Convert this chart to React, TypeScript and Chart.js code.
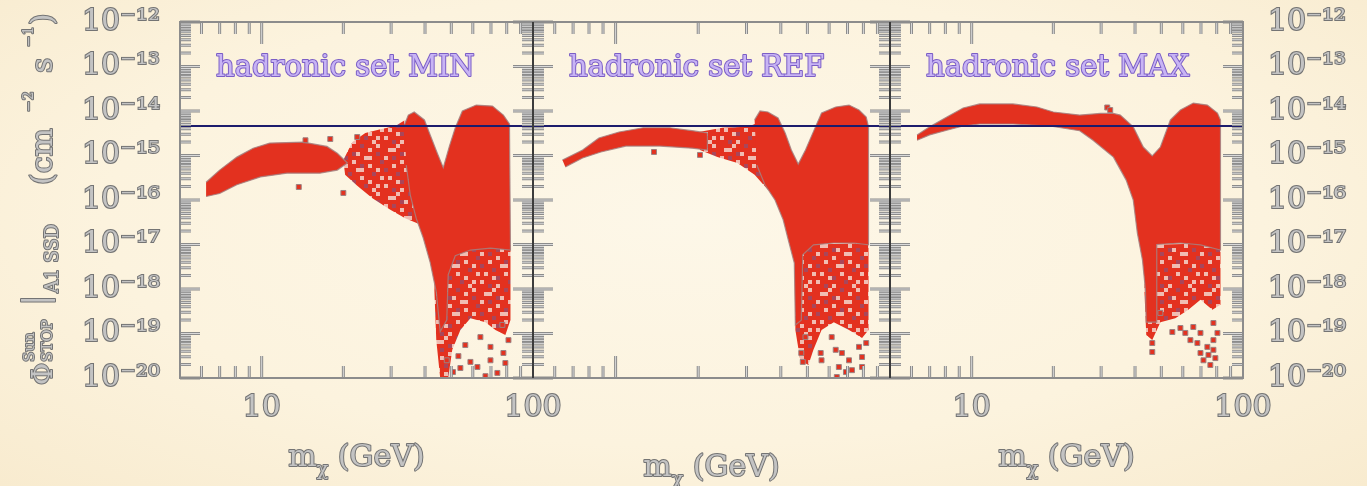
import { useEffect, useRef } from 'react';
import { Chart, registerables } from 'chart.js';

Chart.register(...registerables);

const WIDTH = 1367;
const HEIGHT = 486;
const FRAME_TOP = 22;
const FRAME_BOTTOM = 378;
const PANEL_EDGES = [180, 533, 890, 1243];

const X_MIN = 5;
const X_MAX = 100;
const Y_MIN = 1e-20;
const Y_MAX = 1e-12;

const X_LABEL_TICKS = [10, 100];
const X_MINOR_TICKS = [6, 7, 8, 9, 10, 20, 30, 40, 50, 60, 70, 80, 90];
const X_MAJOR_TICKS = [10];
const Y_DECADES = [-20, -19, -18, -17, -16, -15, -14, -13, -12];

// experimental upper limit on the flux
const LIMIT_FLUX = 4.6e-15;

// ---- hadronic set MIN ----
const MIN_LOBE_X = [6.24, 7.0, 8.1, 9.3, 10.7, 14.2, 17.4, 19.0, 20.7, 19.0, 16.4, 12.4, 9.9, 8.1, 7.0, 6.24];
const MIN_LOBE_Y = [2.5e-16, 4.7e-16, 9.2e-16, 1.46e-15, 1.9e-15, 2.0e-15, 1.6e-15, 1.12e-15, 6.8e-16, 4.7e-16, 4.0e-16, 4.0e-16, 3.3e-16, 2.2e-16, 1.4e-16, 1.2e-16];
const MIN_MID_X = [20.0, 21.6, 24.1, 27.4, 31.1, 33.8, 36.8, 38.4, 33.8, 29.8, 25.6, 22.5, 20.3];
const MIN_MID_Y = [7.9e-16, 2.0e-15, 3.2e-15, 3.9e-15, 4.6e-15, 6.3e-15, 1.33e-15, 2.8e-17, 3.9e-17, 6.0e-17, 1.1e-16, 2.1e-16, 3.7e-16];
const MIN_CORE_X = [33.6, 34.7, 36.5, 39.8, 41.8, 44.4, 46.7, 49.2, 51.7, 54.9, 61.8, 70.9, 77.8, 81.9, 82.6, 69.7, 58.8, 51.7, 48.7, 48.1, 45.5, 44.0, 41.8, 39.4, 37.1, 35.3, 34.1];
const MIN_CORE_Y = [4.9e-15, 8.1e-15, 9.5e-15, 6.3e-15, 2.9e-15, 1.12e-15, 5.3e-16, 1.63e-15, 4.2e-15, 1.0e-14, 1.36e-14, 1.29e-14, 8.1e-15, 5.1e-15, 7.5e-18, 8.3e-18, 7.5e-18, 5.6e-18, 2.1e-18, 2.0e-19, 1.1e-19, 8.6e-19, 3.9e-18, 1.4e-17, 3.9e-17, 1.28e-16, 6.1e-16];
const MIN_TAIL_X = [44.0, 82.6, 82.6, 79.1, 72.7, 66.8, 58.8, 54.0, 50.4, 48.7, 45.5, 44.0, 43.3];
const MIN_TAIL_Y = [7.5e-18, 9.8e-18, 2.0e-19, 9.3e-20, 1.2e-19, 1.8e-19, 2.2e-19, 1.2e-19, 4.3e-20, 1.0e-20, 1.0e-20, 7.1e-20, 9.5e-19];
const MIN_DOTS_X = [13.7, 20.0, 14.5, 17.9, 22.5, 48.1, 50.7, 54.0, 58.8, 62.4, 69.7, 73.9, 77.8, 79.1, 69.7, 64.0, 56.3, 53.1, 66.8, 81.2, 77.1];
const MIN_DOTS_Y = [1.96e-16, 1.44e-16, 2.2e-15, 2.35e-15, 2.6e-15, 2.5e-20, 1.36e-20, 1.68e-20, 2.3e-20, 1.77e-20, 2.5e-20, 1.3e-20, 3.65e-20, 2.17e-20, 5.0e-20, 8.3e-20, 5.5e-20, 3.1e-20, 1.1e-20, 7.1e-20, 1.56e-19];

// ---- hadronic set REF ----
const REF_BAND_X = [6.4, 7.58, 8.69, 10.3, 12.6, 15.75, 19.3, 21.6, 21.6, 19.0, 14.5, 10.9, 8.84, 7.58, 6.56];
const REF_BAND_Y = [7.9e-16, 1.33e-15, 2.47e-15, 3.37e-15, 4.2e-15, 4.2e-15, 3.56e-15, 3.2e-15, 1.33e-15, 1.46e-15, 1.63e-15, 1.63e-15, 1.2e-15, 8.8e-16, 5.5e-16];
const REF_MID_X = [20.3, 24.5, 30.3, 33.8, 36.8, 35.9, 32.1, 27.8, 23.5, 20.3];
const REF_MID_Y = [3.4e-15, 4.2e-15, 4.4e-15, 5.7e-15, 1.33e-15, 1.7e-16, 3.7e-16, 6.8e-16, 9.2e-16, 1.33e-15];
const REF_CORE_X = [32.1, 33.6, 35.9, 39.1, 41.5, 43.7, 46.3, 49.2, 53.5, 56.3, 63.4, 70.9, 77.1, 81.9, 83.5, 83.5, 73.9, 62.4, 52.6, 48.1, 47.5, 45.2, 44.8, 42.6, 40.8, 38.1, 35.0, 32.7];
const REF_CORE_Y = [6.3e-15, 1.0e-14, 9.5e-15, 7.0e-15, 3.2e-15, 1.33e-15, 6.4e-16, 1.33e-15, 4.4e-15, 9.0e-15, 1.23e-14, 1.36e-14, 1.05e-14, 7.3e-15, 4.4e-15, 9.8e-18, 1.08e-17, 1.08e-17, 9.8e-18, 5.9e-18, 2.0e-19, 1.56e-19, 3.84e-18, 1.26e-17, 3.6e-17, 1.0e-16, 2.2e-16, 6.1e-16];
const REF_TAIL_X = [45.2, 83.5, 83.5, 79.1, 70.9, 62.4, 56.3, 52.6, 50.4, 47.1, 45.2];
const REF_TAIL_Y = [9.8e-18, 1.08e-17, 1.2e-19, 7.9e-20, 1.2e-19, 1.8e-19, 1.2e-19, 4.3e-20, 1.96e-20, 2.5e-20, 1.2e-19];
const REF_DOTS_X = [13.8, 20.3, 55.9, 56.3, 61.3, 63.4, 66.8, 70.9, 77.1, 81.9, 79.1, 65.1, 69.1, 72.7, 79.1, 64.0, 49.2, 47.5, 48.1];
const REF_DOTS_Y = [1.2e-15, 1.03e-15, 3.65e-20, 2.5e-20, 8.3e-20, 4.3e-20, 3.65e-20, 2.5e-20, 5.0e-20, 6.1e-20, 2.96e-20, 1.77e-20, 1.36e-20, 1.5e-20, 1.77e-20, 1.05e-20, 8.3e-20, 3.65e-20, 2.3e-20];

// ---- hadronic set MAX ----
const MAX_CORE_X = [6.29, 7.0, 8.1, 9.3, 10.7, 14.2, 17.4, 20.0, 25.0, 29.8, 33.3, 35.3, 39.4, 42.9, 46.3, 49.6, 54.0, 58.8, 65.6, 73.9, 80.5, 82.6, 82.6, 69.7, 58.8, 48.1, 48.1, 44.0, 43.7, 42.6, 40.8, 39.4, 37.1, 33.3, 28.0, 25.0, 19.4, 14.2, 10.7, 9.3, 8.1, 7.0, 6.29];
const MAX_CORE_Y = [2.9e-15, 4.4e-15, 7.3e-15, 1.17e-14, 1.44e-14, 1.44e-14, 1.23e-14, 9.5e-15, 8.1e-15, 8.8e-15, 8.8e-15, 8.1e-15, 4.4e-15, 1.55e-15, 9.8e-16, 1.55e-15, 6.3e-15, 1.05e-14, 1.51e-14, 1.36e-14, 9.0e-15, 6.3e-15, 7.5e-18, 9.8e-18, 1.08e-17, 1.0e-17, 1.8e-19, 1.8e-19, 9.5e-19, 4.5e-18, 1.8e-17, 1.0e-16, 2.8e-16, 9.2e-16, 2.2e-15, 3.6e-15, 4.6e-15, 5.1e-15, 5.1e-15, 4.6e-15, 3.7e-15, 2.9e-15, 2.2e-15];
const MAX_TAIL_X = [44.0, 82.6, 82.6, 77.1, 69.7, 62.9, 56.3, 49.6, 46.3, 44.0, 43.3];
const MAX_TAIL_Y = [9.8e-18, 1.08e-17, 4.4e-19, 3.4e-19, 5.7e-19, 3.4e-19, 2.2e-19, 1.8e-19, 7.1e-20, 9.3e-20, 9.5e-19];
const MAX_DOTS_X = [31.6, 32.4, 46.3, 46.3, 54.9, 61.3, 65.6, 69.7, 77.8, 80.5, 67.9, 73.9, 77.8, 69.7, 74.6, 77.8, 71.5, 49.6, 75.8, 79.1, 64.0, 58.8];
const MAX_DOTS_Y = [1.2e-14, 1.05e-14, 6.1e-20, 3.84e-20, 1.08e-19, 1.03e-19, 1.4e-19, 1.03e-19, 1.72e-19, 1.03e-19, 6.1e-20, 5.0e-20, 7.1e-20, 3.65e-20, 3.3e-20, 4.3e-20, 2.5e-20, 2.9e-19, 1.96e-20, 2.8e-20, 7.1e-20, 1.33e-19];

// ---- styling ----
const SERIF = '"DejaVu Serif", "Liberation Serif", serif';
const RED = '#e3311f';
const REGION_EDGE = 'rgba(165, 128, 128, 0.85)';
const DOT_EDGE = '#9c8282';
const LIMIT_COLOR = '#1c1c6c';
const TEXT_FILL = '#c3c3c3';
const TEXT_EDGE = '#747474';
const LABEL_FILL = '#c8b4f4';
const LABEL_EDGE = '#7b5ec6';
const FRAME_COLOR = '#8c8c8c';
const FRAME_DARK = '#3c3c3c';
const BACKGROUND = 'radial-gradient(ellipse at 50% 45%, #fdf7e8 0%, #fcf3de 60%, #f8ebcf 100%)';

// speckle tile for the loosely populated parts of the scan
const SPECKLE_TILE = [
  'RRRPRRDRRRPR',
  'RPPRRRRRPRRR',
  'RRRRDPRRRRDR',
  'PRDRRRRPPRRR',
  'RRRRPRRRRRRD',
  'RRPRRRDRPRRR',
  'DRRRRPPRRRPR',
  'RRRDRRRRRDRR',
  'RPRRRRPRRRRP',
  'RRRPDRRRPRRR',
  'PRRRRRRDRRPR',
  'RRDRPRRRRPRR',
];
const TILE_COLORS: Record<string, string> = { R: RED, P: '#f1bdb2', D: '#a9465a' };
const TILE_CELL = 4;

const SUP: Record<string, string> = {
  '-': '⁻', '0': '⁰', '1': '¹', '2': '²', '3': '³', '4': '⁴', '5': '⁵', '6': '⁶', '7': '⁷', '8': '⁸', '9': '⁹',
};
const powerLabel = (v: number) =>
  '10' + String(Math.round(Math.log10(v))).split('').map((c) => SUP[c]).join('');

type Region = { x: number[]; y: number[] };
type PanelSpec = {
  label: string;
  left: number;
  right: number;
  solids: Region[];
  speckles: Region[];
  dots: Region;
  yTicks: 'left' | 'right' | 'none';
  xTicks: boolean;
  titleDrop: number;
  yTitle: boolean;
  darkLeft: boolean;
  darkRight: boolean;
};

const PANELS: PanelSpec[] = [
  {
    label: 'hadronic set MIN',
    left: PANEL_EDGES[0], right: PANEL_EDGES[1],
    solids: [{ x: MIN_LOBE_X, y: MIN_LOBE_Y }, { x: MIN_CORE_X, y: MIN_CORE_Y }],
    speckles: [{ x: MIN_MID_X, y: MIN_MID_Y }, { x: MIN_TAIL_X, y: MIN_TAIL_Y }],
    dots: { x: MIN_DOTS_X, y: MIN_DOTS_Y },
    yTicks: 'left', xTicks: true, titleDrop: 0, yTitle: true, darkLeft: false, darkRight: true,
  },
  {
    label: 'hadronic set REF',
    left: PANEL_EDGES[1], right: PANEL_EDGES[2],
    solids: [{ x: REF_BAND_X, y: REF_BAND_Y }, { x: REF_CORE_X, y: REF_CORE_Y }],
    speckles: [{ x: REF_MID_X, y: REF_MID_Y }, { x: REF_TAIL_X, y: REF_TAIL_Y }],
    dots: { x: REF_DOTS_X, y: REF_DOTS_Y },
    yTicks: 'none', xTicks: false, titleDrop: 10, yTitle: false, darkLeft: true, darkRight: true,
  },
  {
    label: 'hadronic set MAX',
    left: PANEL_EDGES[2], right: PANEL_EDGES[3],
    solids: [{ x: MAX_CORE_X, y: MAX_CORE_Y }],
    speckles: [{ x: MAX_TAIL_X, y: MAX_TAIL_Y }],
    dots: { x: MAX_DOTS_X, y: MAX_DOTS_Y },
    yTicks: 'right', xTicks: true, titleDrop: 0, yTitle: false, darkLeft: true, darkRight: false,
  },
];

const pts = (xs: number[], ys: number[]) => xs.map((x, i) => ({ x, y: ys[i] }));

function makeSpeckle(): CanvasPattern | string {
  const c = document.createElement('canvas');
  c.width = SPECKLE_TILE[0].length * TILE_CELL;
  c.height = SPECKLE_TILE.length * TILE_CELL;
  const g = c.getContext('2d');
  if (!g) return RED;
  SPECKLE_TILE.forEach((row, r) => {
    row.split('').forEach((ch, k) => {
      g.fillStyle = TILE_COLORS[ch];
      g.fillRect(k * TILE_CELL, r * TILE_CELL, TILE_CELL, TILE_CELL);
    });
  });
  return g.createPattern(c, 'repeat') || RED;
}

function outlined(ctx: CanvasRenderingContext2D, text: string, x: number, y: number, font: string, fill = TEXT_FILL, edge = TEXT_EDGE) {
  ctx.font = font;
  ctx.lineJoin = 'round';
  ctx.lineWidth = 2;
  ctx.strokeStyle = edge;
  ctx.strokeText(text, x, y);
  ctx.fillStyle = fill;
  ctx.fillText(text, x, y);
}

const font = (size: number) => `${size}px ${SERIF}`;

function drawYTitle(ctx: CanvasRenderingContext2D) {
  ctx.save();
  ctx.translate(52, 386);
  ctx.rotate(-Math.PI / 2);
  ctx.textAlign = 'left';
  ctx.textBaseline = 'alphabetic';
  outlined(ctx, 'Φ', 1, 0, font(27));
  outlined(ctx, 'Sun', 24, -18, font(15));
  outlined(ctx, 'STOP', 24, 0, font(15));
  outlined(ctx, '|', 80, -5, font(34));
  outlined(ctx, 'A1 SSD', 93, 6, font(18));
  outlined(ctx, '(cm', 201, 0, font(30));
  outlined(ctx, '−2', 274, -19, font(14));
  outlined(ctx, 's', 313, 0, font(30));
  outlined(ctx, '−1', 339, -19, font(14));
  outlined(ctx, ')', 361, 0, font(30));
  ctx.restore();
}

function drawXTitle(ctx: CanvasRenderingContext2D, cx: number, baseY: number) {
  const big = font(30);
  const small = font(19);
  ctx.font = big;
  const wM = ctx.measureText('m').width;
  const wRest = ctx.measureText(' (GeV)').width;
  ctx.font = small;
  const wChi = ctx.measureText('χ').width;
  let x = cx - (wM + wChi + wRest) / 2;
  ctx.textAlign = 'left';
  ctx.textBaseline = 'alphabetic';
  outlined(ctx, 'm', x, baseY, big);
  x += wM;
  outlined(ctx, 'χ', x, baseY + 9, small);
  x += wChi;
  outlined(ctx, ' (GeV)', x, baseY, big);
}

const panelDecor = {
  id: 'panelDecor',
  afterDatasetsDraw(chart: any, _args: any, opts: any) {
    const { ctx, chartArea: a } = chart;
    const xs = chart.scales.x;
    const ys = chart.scales.y;
    const segs: number[][] = [];
    X_MINOR_TICKS.forEach((v) => {
      const p = xs.getPixelForValue(v);
      const len = X_MAJOR_TICKS.includes(v) ? 22 : 12;
      segs.push([p, a.top, p, a.top + len], [p, a.bottom, p, a.bottom - len]);
    });
    Y_DECADES.forEach((e) => {
      for (let k = 1; k <= 9; k++) {
        if (e === -12 && k > 1) break;
        const p = ys.getPixelForValue(k * Math.pow(10, e));
        const len = k === 1 ? 20 : 11;
        segs.push([a.left, p, a.left + len, p], [a.right, p, a.right - len, p]);
      }
    });
    ctx.save();
    ctx.lineCap = 'butt';
    ([[3, FRAME_COLOR], [1, '#dadada']] as [number, string][]).forEach(([w, c]) => {
      ctx.lineWidth = w;
      ctx.strokeStyle = c;
      ctx.beginPath();
      segs.forEach(([x1, y1, x2, y2]) => {
        ctx.moveTo(x1, y1);
        ctx.lineTo(x2, y2);
      });
      ctx.stroke();
    });
    ctx.lineWidth = 2;
    ctx.strokeStyle = FRAME_COLOR;
    ctx.strokeRect(a.left, a.top, a.right - a.left, a.bottom - a.top);
    ctx.strokeStyle = FRAME_DARK;
    ctx.beginPath();
    if (opts.darkLeft) {
      ctx.moveTo(a.left, a.top);
      ctx.lineTo(a.left, a.bottom);
    }
    if (opts.darkRight) {
      ctx.moveTo(a.right, a.top);
      ctx.lineTo(a.right, a.bottom);
    }
    ctx.stroke();
    ctx.restore();
  },
  afterDraw(chart: any, _args: any, opts: any) {
    const { ctx, chartArea: a } = chart;
    ctx.save();
    ctx.textAlign = 'left';
    ctx.textBaseline = 'alphabetic';
    outlined(ctx, opts.label, a.left + 36, 76, font(29), LABEL_FILL, LABEL_EDGE);
    drawXTitle(ctx, (a.left + a.right) / 2, 466 + opts.titleDrop);
    if (opts.yTitle) drawYTitle(ctx);
    ctx.restore();
  },
};

// keep the frame exactly where the layout padding puts it
const clearScalePadding = (s: any) => {
  s.paddingTop = 0;
  s.paddingBottom = 0;
  s.paddingLeft = 0;
  s.paddingRight = 0;
};

function buildConfig(spec: PanelSpec, speckle: CanvasPattern | string): any {
  const datasets: any[] = [];
  datasets.push({
    data: pts([X_MIN, X_MAX], [LIMIT_FLUX, LIMIT_FLUX]),
    borderColor: LIMIT_COLOR, borderWidth: 2, pointRadius: 0, fill: false, order: 0,
  });
  datasets.push({
    data: pts(spec.dots.x, spec.dots.y), showLine: false, pointStyle: 'rect', pointRadius: 3.5,
    backgroundColor: RED, borderColor: DOT_EDGE, borderWidth: 1, order: 1,
  });
  spec.solids.forEach((r) =>
    datasets.push({
      data: pts(r.x, r.y), fill: 'shape', backgroundColor: RED, borderColor: REGION_EDGE,
      borderWidth: 1.2, pointRadius: 0, tension: 0, order: 2,
    }),
  );
  spec.speckles.forEach((r) =>
    datasets.push({
      data: pts(r.x, r.y), fill: 'shape', backgroundColor: speckle, borderColor: 'rgba(0,0,0,0)',
      borderWidth: 0, pointRadius: 0, tension: 0, order: 3,
    }),
  );

  const tickFont = { family: SERIF, size: 30 };
  const yWidth = spec.yTicks === 'left' ? spec.left : spec.yTicks === 'right' ? WIDTH - spec.right : 0;

  return {
    type: 'line',
    data: { datasets },
    options: {
      animation: false,
      responsive: false,
      devicePixelRatio: 1,
      events: [],
      layout: {
        padding: {
          left: spec.yTicks === 'left' ? 0 : spec.left,
          right: spec.yTicks === 'right' ? 0 : WIDTH - spec.right,
          top: FRAME_TOP,
          bottom: 0,
        },
      },
      plugins: {
        legend: { display: false },
        tooltip: { enabled: false },
        panelDecor: {
          label: spec.label, titleDrop: spec.titleDrop, yTitle: spec.yTitle,
          darkLeft: spec.darkLeft, darkRight: spec.darkRight,
        },
      },
      scales: {
        x: {
          type: 'logarithmic', min: X_MIN, max: X_MAX,
          grid: { display: false, drawTicks: false }, border: { display: false },
          afterBuildTicks: (s: any) => { s.ticks = X_LABEL_TICKS.map((value) => ({ value })); },
          afterFit: (s: any) => { s.height = HEIGHT - FRAME_BOTTOM; clearScalePadding(s); },
          ticks: {
            display: spec.xTicks, autoSkip: false, maxRotation: 0, padding: 12,
            font: tickFont, color: TEXT_FILL, textStrokeColor: TEXT_EDGE, textStrokeWidth: 2,
            callback: (v: number) => String(v),
          },
        },
        y: {
          type: 'logarithmic', min: Y_MIN, max: Y_MAX,
          position: spec.yTicks === 'right' ? 'right' : 'left',
          grid: { display: false, drawTicks: false }, border: { display: false },
          afterBuildTicks: (s: any) => { s.ticks = Y_DECADES.map((e) => ({ value: Math.pow(10, e) })); },
          afterFit: (s: any) => { s.width = yWidth; clearScalePadding(s); },
          ticks: {
            display: spec.yTicks !== 'none', autoSkip: false, padding: spec.yTicks === 'right' ? 25 : 20,
            font: tickFont, color: TEXT_FILL, textStrokeColor: TEXT_EDGE, textStrokeWidth: 2,
            callback: (v: number) => powerLabel(v),
          },
        },
      },
    },
    plugins: [panelDecor],
  };
}

export default function App() {
  const refs = [useRef<HTMLCanvasElement>(null), useRef<HTMLCanvasElement>(null), useRef<HTMLCanvasElement>(null)];

  useEffect(() => {
    const speckle = makeSpeckle();
    const charts = PANELS.map((spec, i) => {
      const canvas = refs[i].current as HTMLCanvasElement;
      return new Chart(canvas, buildConfig(spec, speckle));
    });
    return () => charts.forEach((c) => c.destroy());
  }, []);

  return (
    <div
      style={{
        position: 'absolute', left: 0, top: 0, width: WIDTH, height: HEIGHT,
        overflow: 'hidden', background: BACKGROUND,
      }}
    >
      {refs.map((r, i) => (
        <canvas
          key={i}
          ref={r}
          width={WIDTH}
          height={HEIGHT}
          style={{ position: 'absolute', left: 0, top: 0, width: WIDTH, height: HEIGHT }}
        />
      ))}
    </div>
  );
}
